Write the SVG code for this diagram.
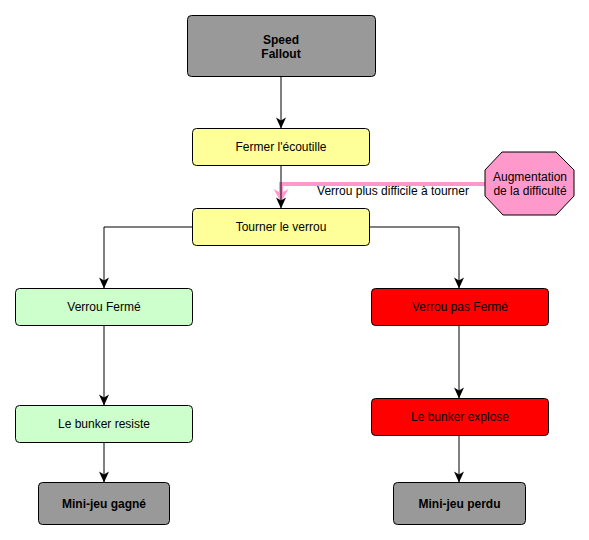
<svg xmlns="http://www.w3.org/2000/svg" width="589" height="540" viewBox="0 0 589 540">
  <style>
    .box { stroke: #000; stroke-width: 1; }
    .gray { fill: #999999; }
    .yellow { fill: #ffff99; }
    .green { fill: #ccffcc; }
    .red { fill: #ff0000; }
    .pink { fill: #ff99cc; }
    text { font-family: "Liberation Sans", Arial, sans-serif; font-size: 12px; fill: #000; text-anchor: middle; }
    .bold { font-weight: bold; }
    .edge { fill: none; stroke: #000; stroke-width: 1; }
    .pedge { fill: none; stroke: #ff99cc; stroke-width: 4; }
  </style>
  <defs>
    <marker id="arrow" markerUnits="userSpaceOnUse" markerWidth="11" markerHeight="10" viewBox="0 0 11 10" refX="11" refY="5" orient="auto" overflow="visible">
      <path d="M0,0 L11,5 L0,10 L3,5 Z" fill="#000"/>
    </marker>
    <marker id="parrow" markerUnits="userSpaceOnUse" markerWidth="13" markerHeight="15" viewBox="0 0 13 15" refX="7" refY="7.5" orient="auto" overflow="visible">
      <path d="M0,0 L13,7.5 L0,15 L4,7.5 Z" fill="#ff99cc"/>
    </marker>
  </defs>

  <g id="connectors">
    <path class="pedge" d="M485,184 H281 V196" marker-end="url(#parrow)"/>
    <path class="edge" d="M281,76.5 V128.5" marker-end="url(#arrow)"/>
    <path class="edge" d="M281,165.5 V208.5" marker-end="url(#arrow)"/>
    <path class="edge" d="M192.5,227 H104 V288.5" marker-end="url(#arrow)"/>
    <path class="edge" d="M369.5,227 H459 V288.5" marker-end="url(#arrow)"/>
    <path class="edge" d="M104,325.5 V405.5" marker-end="url(#arrow)"/>
    <path class="edge" d="M104,442.5 V482.5" marker-end="url(#arrow)"/>
    <path class="edge" d="M459,325.5 V398.5" marker-end="url(#arrow)"/>
    <path class="edge" d="M459,435.5 V482.5" marker-end="url(#arrow)"/>
    <text x="393" y="195">Verrou plus difficile à tourner</text>
  </g>

  <g id="speed-fallout">
    <rect class="box gray" x="187.5" y="15.5" width="188" height="61" rx="4"/>
    <text class="bold" x="281" y="43.5">Speed</text>
    <text class="bold" x="281" y="58">Fallout</text>
  </g>

  <g id="fermer">
    <rect class="box yellow" x="192.5" y="128.5" width="177" height="37" rx="4"/>
    <text x="281" y="151">Fermer l'écoutille</text>
  </g>

  <g id="tourner">
    <rect class="box yellow" x="192.5" y="208.5" width="177" height="37" rx="4"/>
    <text x="281" y="231">Tourner le verrou</text>
  </g>

  <g id="augmentation">
    <polygon class="box pink" points="502,152 556,152 574,170 574,196 556,215 503,215 485,196 485,170"/>
    <text x="530" y="181">Augmentation</text>
    <text x="530" y="195">de la difficulté</text>
  </g>

  <g id="verrou-ferme">
    <rect class="box green" x="15.5" y="288.5" width="177" height="37" rx="4"/>
    <text x="104" y="311">Verrou Fermé</text>
  </g>

  <g id="verrou-pas-ferme">
    <rect class="box red" x="371.5" y="288.5" width="177" height="37" rx="4"/>
    <text x="460" y="311">Verrou pas Fermé</text>
  </g>

  <g id="bunker-resiste">
    <rect class="box green" x="15.5" y="405.5" width="177" height="37" rx="4"/>
    <text x="104" y="428">Le bunker resiste</text>
  </g>

  <g id="bunker-explose">
    <rect class="box red" x="371.5" y="398.5" width="177" height="37" rx="4"/>
    <text x="460" y="421">Le bunker explose</text>
  </g>

  <g id="mini-jeu-gagne">
    <rect class="box gray" x="38.5" y="482.5" width="131" height="42" rx="4"/>
    <text class="bold" x="104" y="508">Mini-jeu gagné</text>
  </g>

  <g id="mini-jeu-perdu">
    <rect class="box gray" x="393.5" y="482.5" width="132" height="42" rx="4"/>
    <text class="bold" x="459.5" y="508">Mini-jeu perdu</text>
  </g>
</svg>
